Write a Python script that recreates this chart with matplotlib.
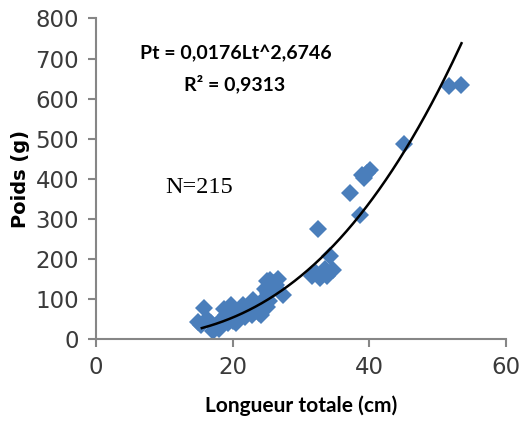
import numpy as np
import matplotlib
matplotlib.use("Agg")
import matplotlib.pyplot as plt

# longueur totale (cm) / poids (g)
longueur = [
    53.4, 51.7, 45.1, 40.1, 39.6, 38.9, 39.3, 37.2, 38.6, 32.5,
    34.2, 34.7, 34.1, 33.5, 31.6, 32.2, 32.8, 33.8, 27.4,
    15.0, 15.4, 15.8, 16.2, 16.8, 17.2, 17.5, 17.7, 18.2, 18.7,
    19.0, 19.3, 19.7, 20.0, 20.3, 20.7, 21.1, 21.5, 21.8, 22.1,
    22.5, 23.0, 23.3, 23.5, 23.8, 24.1, 24.3, 24.6, 24.8, 25.0,
    25.2, 25.5, 25.0, 25.9, 26.3, 26.7, 25.3, 22.8, 20.5, 18.0,
]
poids = [
    635, 632, 487, 421, 415, 410, 402, 365, 310, 274,
    206, 172, 165, 175, 156, 165, 152, 158, 110,
    43, 35, 77, 50, 40, 19, 30, 35, 45, 75,
    60, 40, 85, 45, 55, 70, 72, 85, 55, 66,
    80, 97, 85, 73, 65, 60, 90, 100, 125, 145,
    115, 148, 80, 140, 135, 150, 95, 60, 40, 25,
]

a_coef, b_coef = 0.0176, 2.6746
lt_min, lt_max = 15.5, 53.5

x_ticks = [0, 20, 40, 60]
y_ticks = [0, 100, 200, 300, 400, 500, 600, 700, 800]

gris = "#868686"
bold_font = ["Lato", "DejaVu Sans"]

fig = plt.figure(figsize=(5.27, 4.30), dpi=100)
ax = fig.add_axes([0.182, 0.212, 0.778, 0.745])

ax.plot(longueur, poids, linestyle="none", marker="D", markersize=9.5,
        color="#4a7ebb", markeredgewidth=0)

lt = np.linspace(lt_min, lt_max, 200)
ax.plot(lt, a_coef * lt ** b_coef, color="black", linewidth=1.8)

ax.set_xlim(0, 60)
ax.set_ylim(0, 800)
ax.set_xticks(x_ticks)
ax.set_yticks(y_ticks)

for side in ["top", "right"]:
    ax.spines[side].set_visible(False)
for side in ["left", "bottom"]:
    ax.spines[side].set_color(gris)
    ax.spines[side].set_linewidth(1.5)

ax.tick_params(axis="both", direction="out", length=6, width=1.5,
               color=gris, labelsize=16.5, labelcolor="#3a3a3a", pad=6)
for lab in ax.get_xticklabels() + ax.get_yticklabels():
    lab.set_fontfamily("DejaVu Sans")

ax.set_xlabel("Longueur totale (cm)", fontsize=15, fontweight="bold",
              family=bold_font, labelpad=12)
ax.set_ylabel("Poids (g)", fontsize=14, fontweight="bold", labelpad=4)

fig.text(0.448, 0.876, "Pt = 0,0176Lt^2,6746", fontsize=14,
         fontweight="bold", family=bold_font, ha="center", va="center")
fig.text(0.446, 0.804, "R² = 0,9313", fontsize=14,
         fontweight="bold", family=bold_font, ha="center", va="center")
fig.text(0.378, 0.563, "N=215", fontsize=17.5, family="Liberation Serif",
         ha="center", va="center")

fig.savefig("out.png", dpi=100)
